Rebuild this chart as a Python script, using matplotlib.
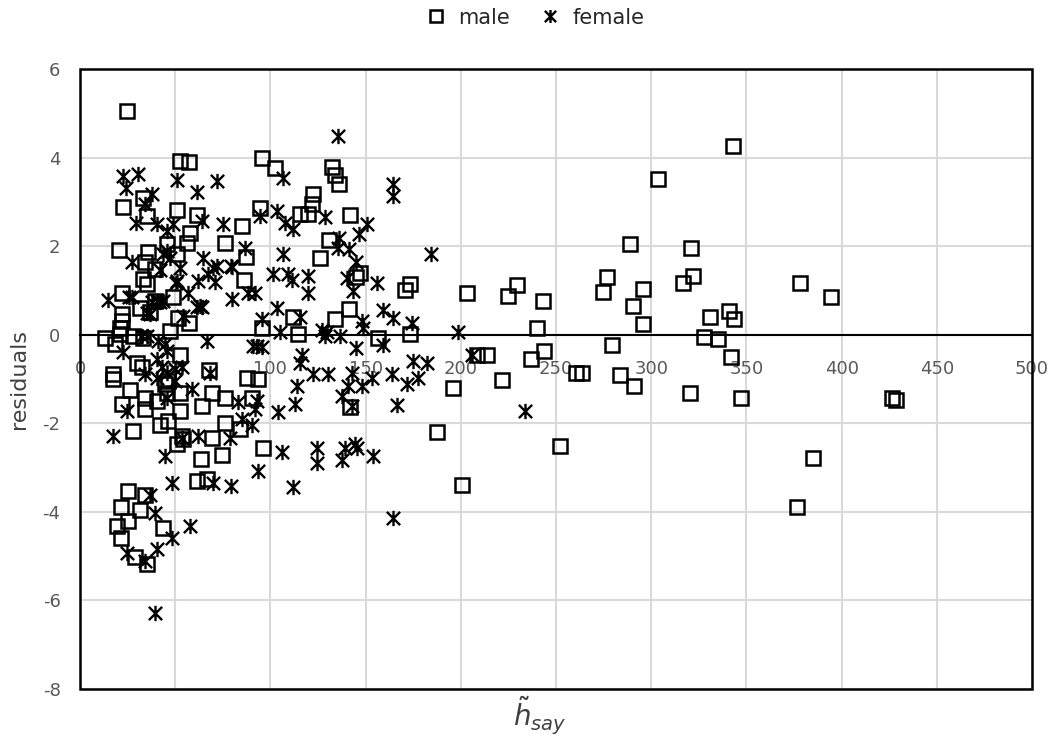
import numpy as np
import matplotlib
matplotlib.use("Agg")
import matplotlib.pyplot as plt
from matplotlib.path import Path
from matplotlib.patches import Rectangle

plt.rcParams['axes.unicode_minus'] = False

# residuals
male_x = [24.5, 52.5, 57.2, 95.6, 102.4, 132.4, 133.9, 136.0, 122.4, 121.8,
          115.5, 119.7, 141.8, 130.8, 126.1, 147.1, 145.0, 173.3, 170.7, 203.3,
          224.8, 229.5, 111.9, 133.9, 141.3, 114.5, 156.5, 173.3, 33.1, 22.6,
          35.2, 50.9, 61.4, 94.5, 85.1, 76.2, 57.8, 56.2, 45.7, 20.5,
          35.7, 34.1, 50.9, 87.2, 39.4, 33.1, 35.2, 86.1, 48.8, 22.1,
          22.1, 22.1, 31.5, 36.8, 51.5, 57.2, 47.3, 21.0, 95.6, 13.1,
          27.8, 33.1, 343.0, 303.6, 288.9, 320.9, 276.8, 274.7, 295.7, 290.4,
          295.7, 243.2, 240.0, 316.7, 322.0, 330.9, 340.9, 343.5, 327.7, 335.1,
          378.2, 394.4, 279.4, 243.7, 236.9, 260.5, 263.7, 283.6, 291.0, 341.9,
          221.6, 320.4, 347.2, 426.5, 428.6, 252.1, 385.0, 376.6, 208.5, 213.8,
          195.9, 187.5, 200.6, 141.8, 18.4, 21.0, 29.9, 32.6, 17.3, 17.3,
          26.3, 22.1, 34.1, 34.1, 40.4, 44.6, 45.7, 52.5, 52.5, 42.0,
          27.8, 46.2, 53.6, 50.9, 54.1, 69.3, 76.2, 64.1, 69.3, 74.6,
          63.6, 61.4, 66.7, 76.2, 84.0, 87.7, 93.5, 90.3, 96.1, 25.1,
          34.1, 21.5, 31.5, 25.2, 19.4, 21.5, 28.9, 35.2, 43.6, 52.5,
          46.2, 67.8, 39.4]
male_y = [5.04, 3.93, 3.91, 4.00, 3.77, 3.79, 3.61, 3.41, 3.18, 2.96,
          2.73, 2.73, 2.71, 2.14, 1.74, 1.40, 1.31, 1.15, 1.02, 0.95,
          0.88, 1.13, 0.41, 0.36, 0.59, 0.02, -0.07, 0.02, 3.09, 2.89,
          2.69, 2.82, 2.71, 2.87, 2.46, 2.08, 2.30, 2.08, 2.05, 1.92,
          1.87, 1.65, 1.83, 1.76, 1.49, 1.26, 1.15, 1.24, 0.86, 0.93,
          0.47, 0.32, 0.61, 0.52, 0.38, 0.27, 0.09, 0.14, 0.14, -0.07,
          -0.02, -0.07, 4.27, 3.52, 2.05, 1.96, 1.31, 0.97, 1.04, 0.65,
          0.23, 0.77, 0.14, 1.17, 1.33, 0.41, 0.54, 0.36, -0.05, -0.09,
          1.17, 0.84, -0.23, -0.36, -0.56, -0.86, -0.86, -0.90, -1.17, -0.50,
          -1.02, -1.31, -1.42, -1.42, -1.47, -2.51, -2.78, -3.88, -0.47, -0.45,
          -1.20, -2.19, -3.39, -1.63, -0.20, 0.02, -0.63, -0.74, -0.88, -0.99,
          -1.26, -1.56, -1.42, -1.67, -1.49, -1.11, -1.31, -1.31, -1.72, -2.05,
          -2.17, -1.94, -2.28, -2.46, -2.35, -1.31, -1.44, -1.60, -2.33, -2.71,
          -2.80, -3.30, -3.25, -1.99, -2.12, -0.97, -0.99, -1.42, -2.57, -3.52,
          -3.63, -3.88, -3.95, -4.20, -4.33, -4.60, -5.01, -5.17, -4.36, -0.47,
          -1.04, -0.80, 0.77]

female_x = [22.6, 30.5, 24.2, 37.8, 50.9, 61.4, 72.0, 34.1, 29.4, 40.4,
            45.7, 48.8, 64.1, 75.1, 94.5, 103.5, 27.3, 42.0, 47.3, 45.7,
            52.5, 50.9, 64.6, 69.9, 67.2, 70.9, 62.0, 79.8, 86.7, 101.4,
            14.7, 25.7, 37.8, 42.0, 56.7, 61.4, 64.1, 79.8, 88.2, 91.9,
            36.8, 54.1, 95.6, 103.5, 135.5, 106.6, 164.4, 164.4, 107.7, 111.9,
            128.7, 150.7, 146.5, 136.0, 135.5, 141.3, 106.6, 184.3, 109.2, 111.3,
            119.7, 119.7, 140.2, 145.0, 143.4, 156.0, 115.5, 159.1, 164.4, 148.1,
            148.6, 174.4, 105.0, 127.1, 129.7, 136.6, 198.5, 128.7, 145.0, 159.1,
            116.6, 115.5, 122.4, 130.3, 142.9, 114.0, 140.8, 137.6, 148.1, 153.4,
            163.9, 171.7, 174.9, 182.2, 177.5, 142.9, 112.9, 104.0, 166.5, 205.9,
            106.1, 124.5, 124.5, 139.2, 144.4, 145.5, 137.6, 153.9, 111.9, 164.4,
            233.7, 66.7, 90.8, 93.0, 95.5, 83.0, 93.0, 91.9, 85.1, 90.3,
            78.8, 93.5, 69.9, 79.3, 68.3, 17.3, 44.6, 48.3, 36.8, 39.4,
            57.8, 48.3, 40.4, 24.7, 34.1, 39.4, 53.6, 62.0, 22.6, 34.1,
            43.1, 40.4, 40.4, 45.7, 49.9, 49.9, 53.6, 45.7, 44.6, 41.0,
            32.6, 35.2, 58.8, 45.7, 24.7, 43.6, 50.2, 27.3, 35.2, 40.4,
            43.6, 63.0, 72.0, 79.3]
female_y = [3.59, 3.63, 3.32, 3.18, 3.50, 3.23, 3.48, 2.96, 2.53, 2.51,
            2.35, 2.51, 2.57, 2.51, 2.69, 2.80, 1.63, 1.47, 1.74, 1.90,
            1.51, 1.22, 1.74, 1.51, 1.38, 1.20, 1.22, 1.53, 1.96, 1.38,
            0.79, 0.84, 0.74, 0.74, 0.93, 0.63, 0.63, 0.81, 0.93, 0.95,
            0.47, 0.43, 0.36, 0.61, 4.49, 3.54, 3.41, 3.14, 2.53, 2.39,
            2.66, 2.51, 2.28, 2.19, 1.96, 1.94, 1.83, 1.83, 1.38, 1.24,
            1.33, 0.93, 1.29, 1.63, 0.99, 1.17, 0.41, 0.56, 0.38, 0.32,
            0.16, 0.27, 0.07, 0.11, 0.05, -0.02, 0.05, -0.02, -0.29, -0.23,
            -0.45, -0.65, -0.88, -0.88, -0.86, -1.15, -1.17, -1.38, -1.15, -0.97,
            -0.88, -1.11, -0.59, -0.63, -0.97, -1.60, -1.56, -1.74, -1.58, -0.47,
            -2.66, -2.55, -2.89, -2.55, -2.46, -2.57, -2.84, -2.75, -3.45, -4.15,
            -1.72, -0.14, -0.25, -0.25, -0.28, -1.53, -1.49, -1.67, -1.90, -2.05,
            -2.33, -3.07, -3.34, -3.41, -0.86, -2.28, -2.73, -3.36, -3.63, -4.02,
            -4.31, -4.58, -4.83, -4.92, -5.10, -6.28, -2.33, -2.28, -0.38, -0.88,
            -0.74, -0.54, -0.97, -0.86, -0.77, -1.04, -0.74, -0.36, -0.20, -0.14,
            -0.02, -0.02, -1.22, -1.44, -1.72, 1.83, 1.17, 0.84, 0.50, 0.77,
            0.77, 0.65, 1.56, 1.56]

x_ticks = [0, 50, 100, 150, 200, 250, 300, 350, 400, 450, 500]
y_ticks = [-8, -6, -4, -2, 0, 2, 4, 6]

# Excel style star: an X with a vertical bar
star = Path([(-1, -1), (1, 1), (-1, 1), (1, -1), (0, -1.15), (0, 1.15)],
            [Path.MOVETO, Path.LINETO, Path.MOVETO, Path.LINETO,
             Path.MOVETO, Path.LINETO])

fig = plt.figure(figsize=(10.49, 7.36), dpi=100)
ax = fig.add_axes([0.0763, 0.0639, 0.9075, 0.8424])

ax.plot(male_x, male_y, ls='none', marker='s', markersize=9.5,
        mfc='none', mec='black', mew=1.8, label='male', zorder=3)
ax.plot(female_x, female_y, ls='none', marker=star, markersize=11,
        mfc='none', mec='black', mew=1.7, label='female', zorder=3)

ax.set_xlim(0, 500)
ax.set_ylim(-8, 6)
ax.set_xticks(x_ticks)
ax.set_yticks(y_ticks)
ax.grid(True, color='#d9d9d9', lw=1.5)
ax.set_axisbelow(True)

for s in ['top', 'left', 'right']:
    ax.spines[s].set_visible(False)
ax.spines['bottom'].set_position(('data', 0))
ax.spines['bottom'].set_linewidth(1.5)
ax.add_patch(Rectangle((0, 0), 1, 1, transform=ax.transAxes, fill=False,
                       lw=1.8, ec='black', clip_on=False, zorder=4))

ax.tick_params(axis='x', length=0, pad=18, labelsize=13, labelcolor='#595959')
ax.tick_params(axis='y', length=0, pad=14, labelsize=13, labelcolor='#595959')

ax.set_ylabel('residuals', fontsize=16, color='#404040', labelpad=10)
fig.text(0.515, 0.028, r'$\tilde{h}_{say}$', fontsize=20, color='#404040',
         ha='center', va='center')

fig.legend(loc='upper center', bbox_to_anchor=(0.505, 1.015), ncol=2,
           frameon=False, fontsize=15, handletextpad=0.1, columnspacing=0.9,
           markerscale=0.85, labelcolor='#262626')

fig.savefig('out.png', dpi=100)
